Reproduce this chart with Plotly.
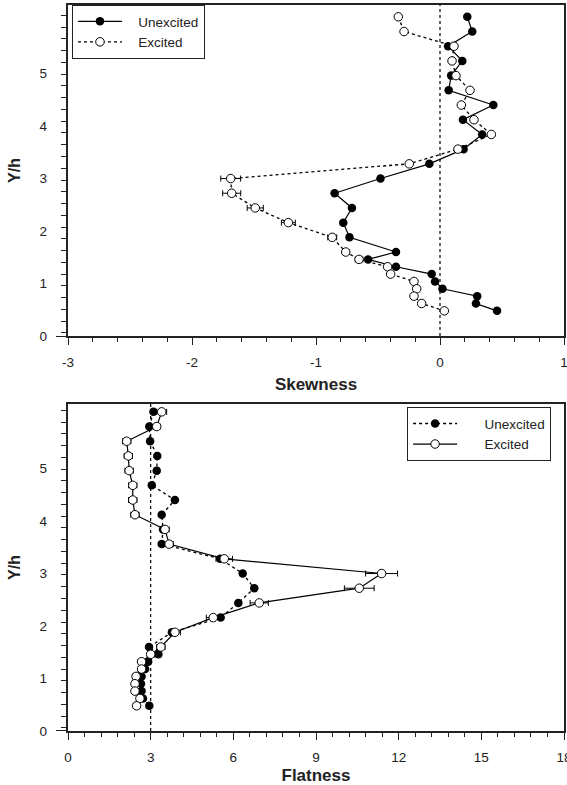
import plotly.graph_objects as go

# ---------------- data ----------------
Y_H = [6.08, 5.80, 5.52, 5.24, 4.96, 4.68, 4.40, 4.12, 3.84, 3.56, 3.28, 3.00, 2.72,
       2.44, 2.16, 1.88, 1.60, 1.46, 1.32, 1.18, 1.04, 0.90, 0.76, 0.62, 0.48]

SKEW_UNEXC = [0.22, 0.26, 0.065, 0.18, 0.09, 0.07, 0.43, 0.185, 0.34, 0.19, -0.086, -0.48, -0.85,
              -0.71, -0.78, -0.73, -0.355, -0.58, -0.355, -0.067, -0.04, 0.02, 0.30, 0.29, 0.46]
SKEW_EXC = [-0.336, -0.29, 0.113, 0.097, 0.129, 0.242, 0.172, 0.274, 0.414, 0.145, -0.248, -1.688, -1.68,
            -1.49, -1.223, -0.869, -0.76, -0.653, -0.423, -0.398, -0.21, -0.188, -0.21, -0.148, 0.035]
SKEW_EXC_ERR = [0, 0, 0, 0, 0, 0, 0, 0, 0, 0, 0.02, 0.08, 0.073,
                0.065, 0.056, 0.036, 0.027, 0.03, 0.02, 0.02, 0.02, 0.02, 0.02, 0.02, 0.02]

FLAT_UNEXC = [3.10, 2.95, 2.98, 3.24, 3.22, 3.04, 3.88, 3.40, 3.45, 3.40, 5.52, 6.34, 6.76,
              6.18, 5.54, 3.77, 2.94, 3.28, 2.91, 2.80, 2.67, 2.65, 2.67, 2.72, 2.95]
FLAT_EXC = [3.40, 3.22, 2.13, 2.19, 2.22, 2.35, 2.35, 2.43, 3.52, 3.67, 5.67, 11.38, 10.57,
            6.94, 5.27, 3.88, 3.37, 3.00, 2.67, 2.67, 2.47, 2.43, 2.43, 2.61, 2.49]
FLAT_EXC_ERR = [0.18, 0.12, 0.15, 0.15, 0.15, 0.15, 0.15, 0.15, 0.15, 0.15, 0.30, 0.58, 0.54,
                0.33, 0.25, 0.20, 0.15, 0.12, 0.12, 0.12, 0.12, 0.12, 0.12, 0.12, 0.12]

SKEW_REF = 0.0      # Gaussian skewness
FLAT_REF = 3.0      # Gaussian flatness

SKEW_TICKS = [-3, -2, -1, 0, 1]
SKEW_TICKTEXT = ["-3", "-2", "-1", "0", "1"]
FLAT_TICKS = [0, 3, 6, 9, 12, 15, 18]
FLAT_TICKTEXT = ["0", "3", "6", "9", "12", "15", "18"]

Y_LABELS = [0, 1, 2, 3, 4, 5]
Y_LONG_TICKS = [0, 1.18, 2.30, 3.42, 4.54, 5.66]
Y_MINOR_TICKS = [round(0.06 + 0.224 * k, 3) for k in range(28)]

# ---------------- style ----------------
FONT = "Liberation Sans, Arial, sans-serif"
AX = "#222222"
Y_TOP_RANGE = [0, 6.305]
Y_BOT_RANGE = [0, 6.229]
NB = "\u00a0"

fig = go.Figure()

# top chart: skewness
fig.add_trace(go.Scatter(
    x=SKEW_UNEXC, y=Y_H, mode="lines+markers", name=NB * 3 + "Unexcited",
    line=dict(color="black", width=1.2),
    marker=dict(symbol="circle", size=8.5, color="black"),
    xaxis="x", yaxis="y", legend="legend"))
fig.add_trace(go.Scatter(
    x=SKEW_EXC, y=Y_H, mode="lines+markers", name=NB * 3 + "Excited",
    line=dict(color="black", width=1.3, dash="dot"),
    marker=dict(symbol="circle", size=8.5, color="white", line=dict(color="black", width=1)),
    error_x=dict(type="data", array=SKEW_EXC_ERR, color="black", thickness=1, width=3),
    xaxis="x", yaxis="y", legend="legend"))

# bottom chart: flatness
fig.add_trace(go.Scatter(
    x=FLAT_UNEXC, y=Y_H, mode="lines+markers", name=NB * 6 + "Unexcited",
    line=dict(color="black", width=1.3, dash="dot"),
    marker=dict(symbol="circle", size=8.5, color="black"),
    xaxis="x2", yaxis="y2", legend="legend2"))
fig.add_trace(go.Scatter(
    x=FLAT_EXC, y=Y_H, mode="lines+markers", name=NB * 6 + "Excited",
    line=dict(color="black", width=1.2),
    marker=dict(symbol="circle", size=8.5, color="white", line=dict(color="black", width=1)),
    error_x=dict(type="data", array=FLAT_EXC_ERR, color="black", thickness=1, width=3),
    xaxis="x2", yaxis="y2", legend="legend2"))

fig.add_shape(type="line", x0=SKEW_REF, x1=SKEW_REF, y0=0, y1=1, xref="x", yref="y domain",
              line=dict(color="black", width=1.2, dash="dot"), layer="below")
fig.add_shape(type="line", x0=FLAT_REF, x1=FLAT_REF, y0=0, y1=1, xref="x2", yref="y2 domain",
              line=dict(color="black", width=1.2, dash="dot"), layer="below")

tickfont = dict(family=FONT, size=13.5, color=AX)
titlefont = dict(family=FONT, size=17, color=AX, weight="bold")

def xaxis(rng, tickvals, ticktext, minor_dtick, anchor, title):
    return dict(range=rng, tickmode="array", tickvals=tickvals, ticktext=ticktext,
                ticks="outside", ticklen=7, tickwidth=1.2, tickcolor=AX,
                minor=dict(dtick=minor_dtick, tick0=rng[0], ticks="outside", ticklen=4,
                           tickwidth=1, tickcolor=AX),
                showline=True, linecolor=AX, linewidth=1.5, mirror=True,
                showgrid=False, zeroline=False, anchor=anchor, automargin=False,
                tickfont=tickfont, ticklabelstandoff=6, ticklabeloverflow="allow",
                title=dict(text=title, font=titlefont, standoff=9))

def ytick_axis(rng, dom, anchor):
    return dict(range=rng, domain=dom, anchor=anchor, tickmode="array",
                tickvals=Y_LONG_TICKS, ticktext=[""] * len(Y_LONG_TICKS),
                ticks="outside", ticklen=10, tickwidth=1.2, tickcolor=AX,
                minor=dict(tickmode="array", tickvals=Y_MINOR_TICKS, ticks="outside",
                           ticklen=5, tickwidth=1, tickcolor=AX),
                showline=True, linecolor=AX, linewidth=1.5, mirror=True, automargin=False,
                showgrid=False, zeroline=False, showticklabels=False)

def ylabel_axis(rng, over, anchor):
    return dict(range=rng, overlaying=over, anchor=anchor, side="left",
                tickmode="array", tickvals=Y_LABELS, ticks="", showline=False,
                showgrid=False, zeroline=False, tickfont=tickfont, automargin=False,
                ticklabelstandoff=20,
                title=dict(text="Y/h", font=dict(family=FONT, size=16, color=AX, weight="bold"),
                           standoff=14))

legend_common = dict(bgcolor="white", bordercolor=AX, borderwidth=1,
                     font=dict(family=FONT, size=13.5, color=AX), itemwidth=44,
                     tracegroupgap=0)

fig.update_layout(
    width=567, height=785,
    margin=dict(l=68, r=3, t=5, b=54, autoexpand=False),
    paper_bgcolor="white", plot_bgcolor="white",
    showlegend=True,
    xaxis=xaxis([-3, 1], SKEW_TICKS, SKEW_TICKTEXT, 0.2, "y", "Skewness"),
    yaxis=ytick_axis(Y_TOP_RANGE, [0.544, 1.0], "x"),
    yaxis3=ylabel_axis(Y_TOP_RANGE, "y", "x"),
    xaxis2=xaxis([0, 18], FLAT_TICKS, FLAT_TICKTEXT, 0.6, "y2", "Flatness"),
    yaxis2=ytick_axis(Y_BOT_RANGE, [0.0, 0.4504], "x2"),
    yaxis4=ylabel_axis(Y_BOT_RANGE, "y2", "x2"),
    legend=dict(x=0.008, y=1.0, xanchor="left", yanchor="top", **legend_common),
    legend2=dict(x=0.974, y=0.446, xanchor="right", yanchor="top", **legend_common),
)

# invisible traces so the label axes render
fig.add_trace(go.Scatter(x=[None], y=[None], xaxis="x", yaxis="y3", showlegend=False, hoverinfo="skip"))
fig.add_trace(go.Scatter(x=[None], y=[None], xaxis="x2", yaxis="y4", showlegend=False, hoverinfo="skip"))

fig.write_html("out.html")
